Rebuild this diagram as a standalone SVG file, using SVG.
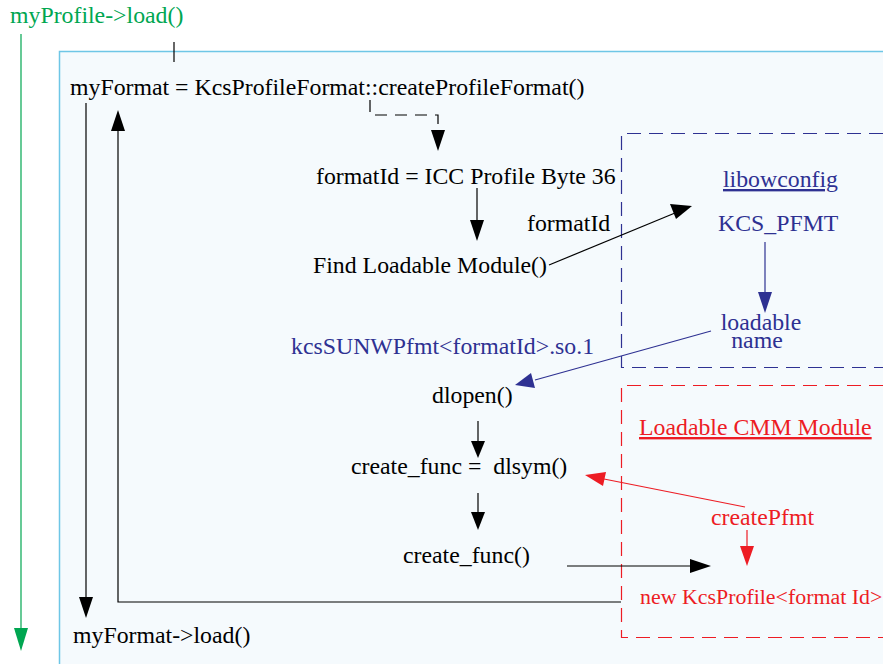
<svg xmlns="http://www.w3.org/2000/svg" width="883" height="664" viewBox="0 0 883 664">
<style>
.k{fill:#000}.b{fill:#2e3192}.r{fill:#ed1c24}.g{fill:#00a651}
.lk{stroke:#000;stroke-width:1.2;fill:none}
.lb{stroke:#2e3192;stroke-width:1.2;fill:none}
.lr{stroke:#ed1c24;stroke-width:1.2;fill:none}
.lg{stroke:#00a651;stroke-width:1.2;fill:none}
.dash{stroke-dasharray:14 8}
</style>
<rect width="883" height="664" fill="#fff"/>
<rect id="container" x="59.5" y="51.5" width="840" height="640" fill="#f5fafd" stroke="#6ec6e6" stroke-width="1.5"/>
<g id="blueBox"><path d="M883 133.5H621.5V367.5H883" class="lb dash" stroke-width="1"/></g>
<g id="redBox"><path d="M883 385.5H621.5V637.5H883" class="lr dash" stroke-width="1"/></g>
<g id="connectors">
<path d="M21 34V630" class="lg"/><polygon points="14,628 28,628 21,651" fill="#00a651"/>
<path d="M174 42V62" class="lk"/>
<path d="M86 103V598" class="lk"/><polygon points="79,597 93,597 86,618" fill="#000"/>
<path d="M621 602H118V128" class="lk"/><polygon points="111,131 125,131 118,110" fill="#000"/>
<path d="M370 100V115H438V132" class="lk" stroke-dasharray="12 8"/><polygon points="431,130 445,130 438,151" fill="#000"/>
<path d="M477 188V222" class="lk"/><polygon points="470,220 484,220 477,241" fill="#000"/>
<path d="M549 265L675 213" class="lk"/><polygon points="670,204 676,219 692,206" fill="#000"/>
<path d="M765 242V294" class="lb"/><polygon points="758,292 772,292 765,313" fill="#2e3192"/>
<path d="M711 331L535 380" class="lb"/><polygon points="531,373 535,388 515,385" fill="#2e3192"/>
<path d="M478 421V442" class="lk"/><polygon points="471,441 485,441 478,458" fill="#000"/>
<path d="M478 493V513" class="lk"/><polygon points="471,512 485,512 478,530" fill="#000"/>
<path d="M567 566H692" class="lk"/><polygon points="690,559 690,573 711,566" fill="#000"/>
<path d="M745 507L604 479" class="lr"/><polygon points="606,472 603,486 585,475" fill="#ed1c24"/>
<path d="M747 530V548" class="lr"/><polygon points="740,546 754,546 747,566" fill="#ed1c24"/>
</g>
<g font-family="'Liberation Serif', 'Times New Roman', serif" font-size="23.8">
<g id="n_myProfile"><text x="10" y="23" class="g">myProfile-&gt;load()</text></g>
<g id="n_myFormat"><text x="70" y="95" class="k">myFormat = KcsProfileFormat::createProfileFormat()</text></g>
<g id="n_formatIdAssign"><text x="316" y="184" class="k">formatId = ICC Profile Byte 36</text></g>
<g id="n_formatIdLabel"><text x="527" y="231" class="k">formatId</text></g>
<g id="n_find"><text x="313" y="273" class="k">Find Loadable Module()</text></g>
<g id="n_libowconfig"><text x="723" y="187" class="b" text-decoration="underline">libowconfig</text></g>
<g id="n_kcspfmt"><text x="718" y="231" class="b">KCS_PFMT</text></g>
<g id="n_loadable"><text x="761" y="330" class="b" text-anchor="middle">loadable</text><text x="757" y="348" class="b" text-anchor="middle">name</text></g>
<g id="n_so"><text x="291" y="354" class="b">kcsSUNWPfmt&lt;formatId&gt;.so.1</text></g>
<g id="n_dlopen"><text x="432" y="403" class="k">dlopen()</text></g>
<g id="n_dlsym"><text x="351" y="474" class="k" xml:space="preserve">create_func =  dlsym()</text></g>
<g id="n_createFunc"><text x="403" y="563" class="k">create_func()</text></g>
<g id="n_cmm"><text x="639" y="435" class="r" text-decoration="underline">Loadable CMM Module</text></g>
<g id="n_createPfmt"><text x="711" y="525" class="r">createPfmt</text></g>
<g id="n_newKcs"><text x="640" y="604" class="r" font-size="21.9">new KcsProfile&lt;format Id&gt;</text></g>
<g id="n_load"><text x="73" y="643" class="k">myFormat-&gt;load()</text></g>
</g>
</svg>
